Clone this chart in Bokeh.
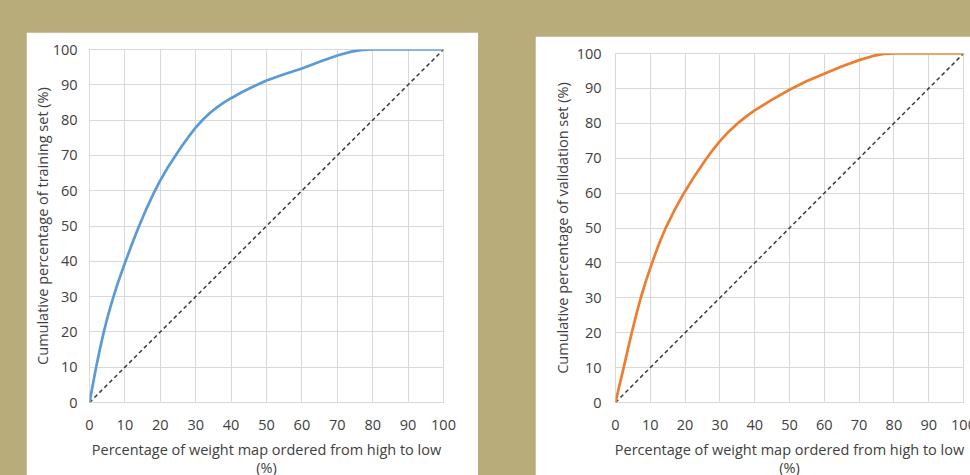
from bokeh.plotting import figure
from bokeh.layouts import row
from bokeh.models import FixedTicker
from bokeh.embed import file_html
from bokeh.resources import INLINE

# ---- data ----
ticks = [0, 10, 20, 30, 40, 50, 60, 70, 80, 90, 100]

train_x = [0, 1, 2, 3, 4, 5, 6, 7, 8, 9, 10, 12, 14, 16, 18, 20, 22, 24, 26, 28, 30,
           32, 34, 36, 38, 40, 43, 46, 50, 55, 60, 65, 70, 74, 77, 80, 90, 100]
train_y = [0, 5.4, 10.6, 15.4, 19.8, 23.8, 27.4, 30.7, 33.8, 36.7, 39.5, 44.9, 50.0,
           54.7, 59.0, 62.9, 66.4, 69.5, 72.5, 75.3, 77.9, 80.1, 82.0, 83.6, 85.0, 86.2,
           87.9, 89.4, 91.2, 93.0, 94.6, 96.5, 98.3, 99.4, 99.9, 100, 100, 100]

valid_x = [0, 1.2, 2.4, 3.5, 4.6, 5.9, 7.2, 8.8, 10.5, 12.4, 14.5, 17, 19.9, 22.8, 25.8,
           28, 30, 32.5, 35, 37.5, 40, 45, 50, 55, 60, 65, 70, 74, 77, 80, 90, 100]
valid_y = [0, 5.2, 10.2, 15.0, 19.7, 24.9, 29.8, 35.0, 40.0, 45.2, 50.2, 55.2, 60.4,
           65.0, 69.4, 72.4, 74.9, 77.6, 79.9, 81.9, 83.7, 86.8, 89.6, 92.1, 94.2, 96.3,
           98.1, 99.3, 99.9, 100, 100, 100]

diag_x = [0, 100]
diag_y = [0, 100]

x_title = "Percentage of weight map ordered from high to low\n(%)"
y_title_train = "Cumulative percentage of training set (%)"
y_title_valid = "Cumulative percentage of validation set (%)"

BG = "#B8AC7A"
GRID = "#D9D9D9"
TXT = "#404040"
FONT = "Open Sans"
FS = "14.5px"


def make_fig(w, h, left, right, top, bottom, xs, ys, color, ytitle, ystand, ylabstand):
    p = figure(width=w, height=h, x_range=(0, 100), y_range=(0, 100),
               output_backend="svg", toolbar_location=None,
               min_border_left=left, min_border_right=right,
               min_border_top=top, min_border_bottom=bottom)
    p.background_fill_color = "white"
    p.border_fill_color = "white"
    p.outline_line_color = GRID
    p.outline_line_width = 1
    for ax in (p.xaxis[0], p.yaxis[0]):
        ax.ticker = FixedTicker(ticks=ticks)
        ax.axis_line_color = None
        ax.major_tick_line_color = None
        ax.minor_tick_line_color = None
        ax.major_tick_out = 0
        ax.major_tick_in = 0
        ax.minor_tick_out = 0
        ax.major_label_text_font = FONT
        ax.major_label_text_font_size = FS
        ax.major_label_text_color = TXT
        ax.axis_label_text_font = FONT
        ax.axis_label_text_font_size = FS
        ax.axis_label_text_font_style = "normal"
        ax.axis_label_text_color = TXT
    p.xaxis.major_label_standoff = 17
    p.yaxis.major_label_standoff = ystand
    p.xaxis.axis_label = x_title
    p.yaxis.axis_label = ytitle
    p.xaxis.axis_label_standoff = 7
    p.xaxis.axis_label_text_line_height = 0.95
    p.yaxis.axis_label_standoff = ylabstand
    p.xgrid.ticker = FixedTicker(ticks=ticks)
    p.ygrid.ticker = FixedTicker(ticks=ticks)
    p.grid.grid_line_color = GRID
    p.grid.grid_line_width = 1
    p.line(diag_x, diag_y, line_color="#3a3a3a", line_width=1.5, line_dash="4 3")
    p.line(xs, ys, line_color=color, line_width=2.7, line_join="round")
    return p


p1 = make_fig(452, 453, 63, 35, 15, 82, train_x, train_y, "#5B9BD5",
              y_title_train, 12, -2)
p1.margin = (32, 0, 0, 26)

p2 = make_fig(448, 449, 80, 20, 17, 83, valid_x, valid_y, "#ED7D31",
              y_title_valid, 14, 2)
p2.margin = (36, 0, 0, 57)

layout = row(p1, p2, spacing=0, styles={"background-color": BG})

html = file_html(layout, INLINE)
html = html.replace("<body", '<body style="margin:0;background-color:%s;overflow:hidden"' % BG, 1)
open("out.html", "w").write(html)
